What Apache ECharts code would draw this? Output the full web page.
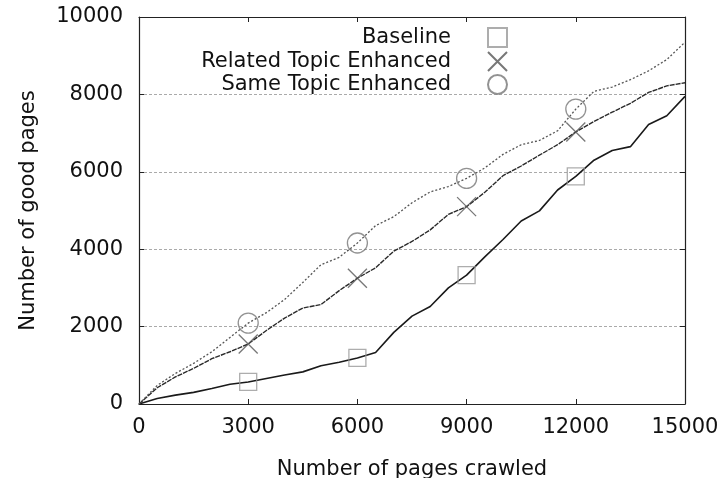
<!DOCTYPE html>
<html>
<head>
<meta charset="utf-8">
<script src="https://cdn.jsdelivr.net/npm/echarts@6/dist/echarts.min.js"></script>
<style>
html,body{margin:0;padding:0;background:#fff;}
#chart{width:723px;height:478px;}
</style>
</head>
<body>
<div id="chart"></div>
<script>
const xValues = [0,500,1000,1500,2000,2500,3000,3500,4000,4500,5000,5500,6000,6500,7000,7500,8000,8500,9000,9500,10000,10500,11000,11500,12000,12500,13000,13500,14000,14500,15000];
const baseline = [0,140,230,300,400,510,570,660,750,830,990,1080,1190,1330,1850,2270,2520,3000,3330,3800,4250,4730,4990,5530,5880,6300,6550,6650,7220,7450,7950];
const related = [0,420,700,920,1170,1350,1550,1900,2220,2480,2570,2930,3250,3520,3950,4200,4500,4900,5100,5470,5900,6150,6430,6700,7030,7300,7540,7770,8050,8220,8300];
const same = [0,480,790,1050,1350,1720,2090,2360,2700,3140,3600,3790,4160,4610,4840,5200,5480,5620,5830,6100,6450,6700,6810,7060,7620,8080,8190,8380,8610,8900,9350];
const markerX = [3000,6000,9000,12000];
const seriesNames = ['Baseline','Related Topic Enhanced','Same Topic Enhanced'];

const FONT = '"DejaVu Sans", sans-serif';
const FS = 21;
const pairs = arr => xValues.map((x,i)=>[x, arr[i]]);
const marks = arr => markerX.map(x => [x, arr[xValues.indexOf(x)]]);

const chart = echarts.init(document.getElementById('chart'), null, {renderer:'canvas'});

const axisLineStyle = {color:'#222', width:1.2};
const plain = v => String(v);
function legendFor(name, top){
  return {
    data:[name], right:215, top:top, padding:0, align:'right', orient:'vertical',
    itemWidth:19, itemHeight:19, selectedMode:false,
    formatter: '{t|{name}}{s|}',
    textStyle:{fontFamily:FONT, fontSize:FS, color:'#111',
      rich:{t:{fontFamily:FONT, fontSize:FS, color:'#111', lineHeight:22}, s:{width:32}}}
  };
}

chart.setOption({
  animation:false,
  backgroundColor:'#fff',
  grid:{left:139, right:38, top:17, bottom:74, show:false, containLabel:false, outerBoundsMode:'none'},
  legend:[legendFor(seriesNames[0],27), legendFor(seriesNames[1],51), legendFor(seriesNames[2],74)],
  xAxis:[{
    type:'value', min:0, max:15000, interval:3000, position:'bottom',
    name:'Number of pages crawled', nameLocation:'middle', nameGap:55,
    nameTextStyle:{fontFamily:FONT, fontSize:FS, color:'#111'},
    axisLine:{show:true, onZero:false, lineStyle:axisLineStyle},
    axisTick:{show:true, inside:true, length:5, lineStyle:{color:'#222'}},
    axisLabel:{fontFamily:FONT, fontSize:FS, color:'#111', margin:13, formatter:plain},
    splitLine:{show:false}
  },{
    type:'value', min:0, max:15000, interval:3000, position:'top',
    axisLine:{show:true, onZero:false, lineStyle:axisLineStyle},
    axisTick:{show:true, inside:true, length:5, lineStyle:{color:'#222'}},
    axisLabel:{show:false}, splitLine:{show:false}
  }],
  yAxis:[{
    type:'value', min:0, max:10000, interval:2000, position:'left',
    name:'Number of good pages', nameLocation:'middle', nameGap:100,
    nameTextStyle:{fontFamily:FONT, fontSize:FS, color:'#111'},
    axisLine:{show:true, onZero:false, lineStyle:axisLineStyle},
    axisTick:{show:true, inside:true, length:5, lineStyle:{color:'#222'}},
    axisLabel:{fontFamily:FONT, fontSize:FS, color:'#111', margin:16, formatter:plain},
    splitLine:{show:true, lineStyle:{color:'#aaa', type:[3,2], width:1}}
  },{
    type:'value', min:0, max:10000, interval:2000, position:'right',
    axisLine:{show:true, onZero:false, lineStyle:axisLineStyle},
    axisTick:{show:true, inside:true, length:5, lineStyle:{color:'#222'}},
    axisLabel:{show:false}, splitLine:{show:false}
  }],
  series:[
    {name:'baseline-line', type:'line', data:pairs(baseline), showSymbol:false, symbol:'none',
      lineStyle:{color:'#1a1a1a', width:1.6}, z:3},
    {name:'related-line', type:'line', data:pairs(related), showSymbol:false, symbol:'none',
      lineStyle:{color:'#2a2a2a', width:1.4, type:[5,1]}, z:3},
    {name:'same-line', type:'line', data:pairs(same), showSymbol:false, symbol:'none',
      lineStyle:{color:'#555', width:1.3, type:[2,2]}, z:3},
    {name:seriesNames[0], type:'scatter', data:marks(baseline), symbol:'rect', symbolSize:17,
      itemStyle:{color:'transparent', borderColor:'#999', borderWidth:1.3}, z:4},
    {name:seriesNames[1], type:'scatter', data:marks(related), symbol:'path://M0,0L10,10M10,0L0,10', symbolSize:19,
      itemStyle:{color:'transparent', borderColor:'#555', borderWidth:1.3}, z:4},
    {name:seriesNames[2], type:'scatter', data:marks(same), symbol:'circle', symbolSize:20,
      itemStyle:{color:'transparent', borderColor:'#777', borderWidth:1.3}, z:4}
  ]
});
</script>
</body>
</html>
